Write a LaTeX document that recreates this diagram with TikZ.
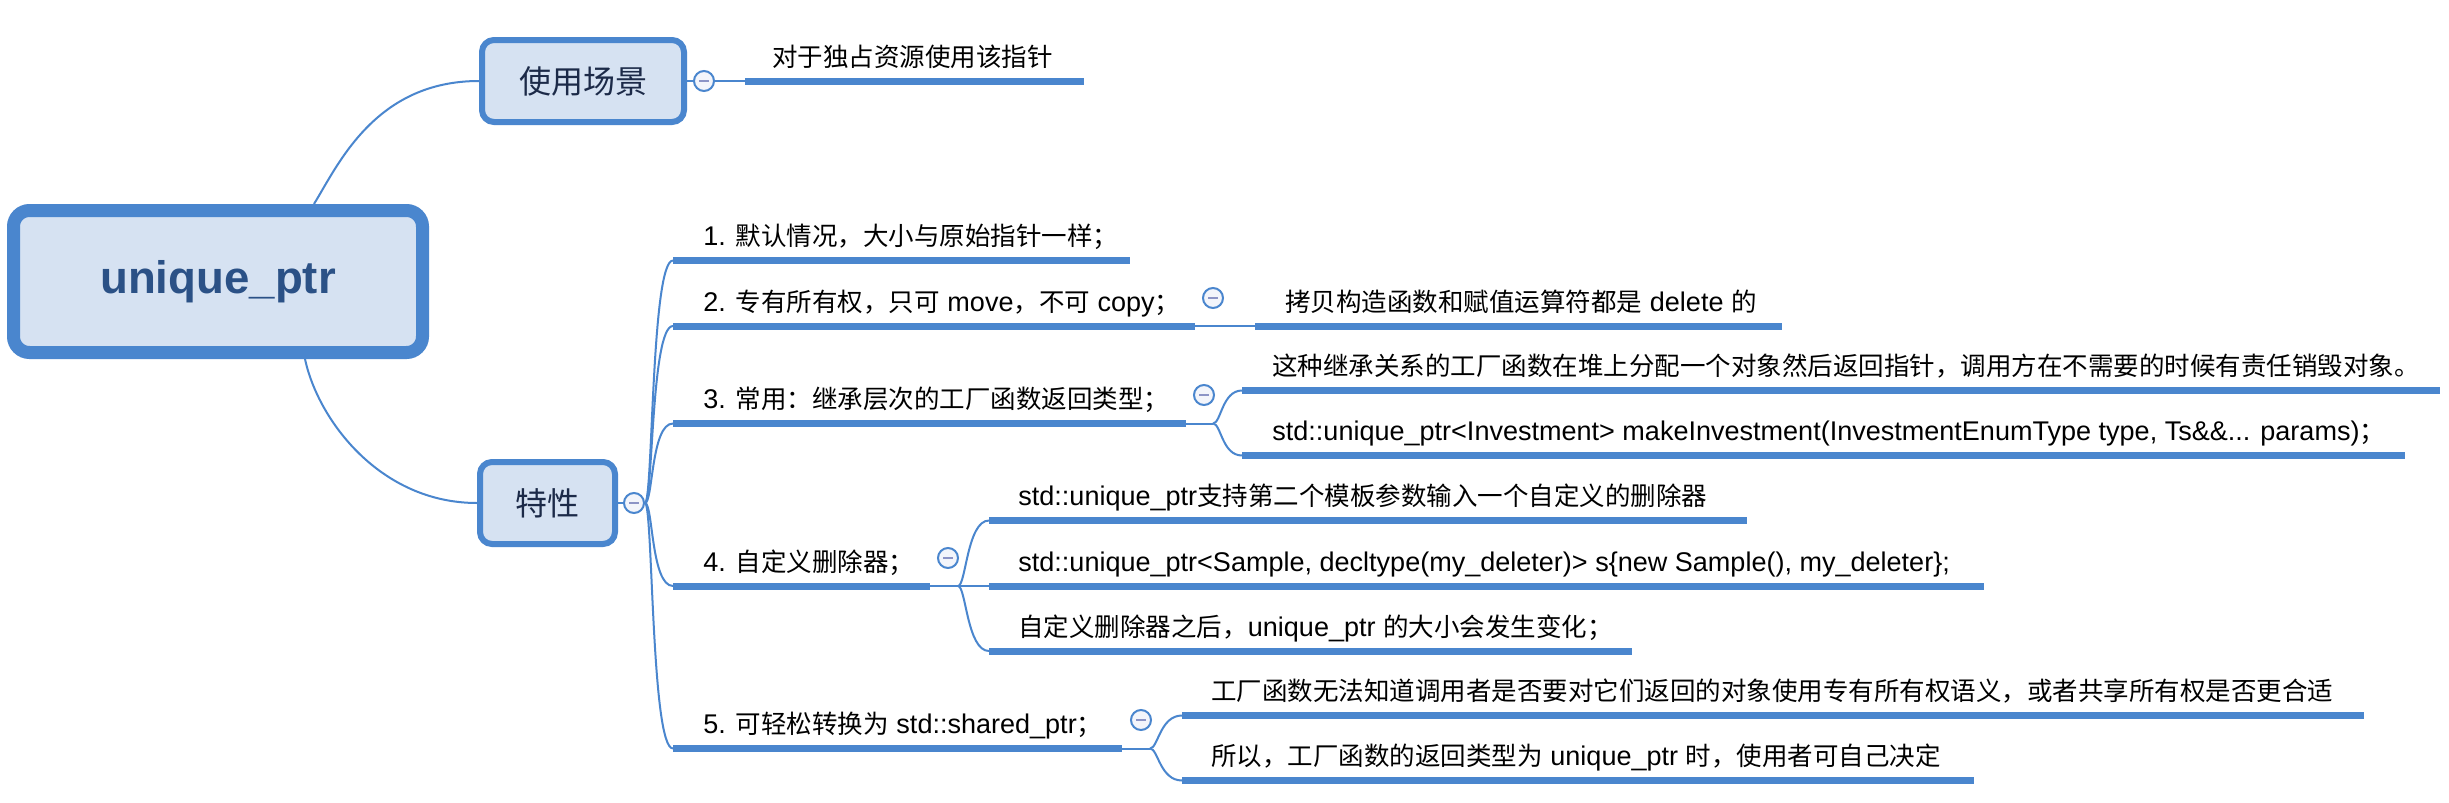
\documentclass[tikz,border=0pt]{standalone}
\usepackage{fontspec}
\setmainfont{Liberation Sans}[Scale=1.06]
\newfontfamily\cjk{Noto Sans CJK SC}

% switch to the CJK family for ideographs and full-width punctuation:
\XeTeXinterchartokenstate=1
\newXeTeXintercharclass\cjkclass
\newcount\cjkcode
\newcommand\setcjkrange[2]{%
  \cjkcode=#1\relax
  \loop
    \XeTeXcharclass\cjkcode=\cjkclass
    \advance\cjkcode by 1
  \ifnum\cjkcode<#2\relax\repeat}
\setcjkrange{"3000}{"3040}
\setcjkrange{"4E00}{"A000}
\setcjkrange{"FF00}{"FFF0}
\XeTeXinterchartoks 0 \cjkclass={\begingroup\cjk}
\XeTeXinterchartoks 4095 \cjkclass={\begingroup\cjk}
\XeTeXinterchartoks \cjkclass 0={\endgroup}
\XeTeXinterchartoks \cjkclass 4095={\endgroup}

\definecolor{mapblue}{HTML}{4A86CE}
\definecolor{mapfill}{HTML}{D6E2F2}
\definecolor{roottext}{HTML}{2B5186}
\definecolor{topictext}{HTML}{1C2A48}
\definecolor{foldfill}{HTML}{F3F5FB}
\definecolor{foldmark}{HTML}{8C94C6}

\begin{document}
\begin{tikzpicture}[x=0.5pt,y=-0.5pt,
  rootbox/.style={draw=mapblue,fill=mapfill,line width=6.5pt,rounded corners=8pt,
    minimum width=204.5pt,minimum height=71pt,inner sep=0pt,
    text=roottext,font={\fontsize{21.5pt}{26pt}\selectfont\bfseries}},
  topicbox/.style={draw=mapblue,fill=mapfill,line width=3pt,rounded corners=6pt,
    minimum height=41pt,inner sep=0pt,text=topictext,font={\fontsize{16pt}{20pt}\selectfont}},
  leaf/.style={anchor=base west,inner sep=0pt,text=black,font={\fontsize{12.75pt}{15pt}\selectfont}},
  bar/.style={mapblue,line width=3.5pt},
  link/.style={mapblue,line width=1pt},
  fold/.style={circle,draw=mapblue,fill=foldfill,line width=1pt,minimum size=10pt,inner sep=0pt,
    path picture={\draw[foldmark,line width=1pt] ([xshift=-2.5pt]path picture bounding box.center)
      -- ([xshift=2.5pt]path picture bounding box.center);}}]

\fill[white] (0,0) rectangle (2449,803);
\useasboundingbox (0,0) rectangle (2449,803);

% central and main topics:
\node[rootbox] (root) at (218,281.5) {unique\_ptr};
\node[topicbox,minimum width=101pt] (scene) at (583,81) {使用场景};
\node[topicbox,minimum width=67.5pt] (trait) at (547.5,503) {特性};

% underline ends:
\coordinate (s1-a) at (745,81);     \coordinate (s1-b) at (1084,81);
\coordinate (c1-a) at (673,260.5);  \coordinate (c1-b) at (1130,260.5);
\coordinate (c2-a) at (673,326);    \coordinate (c2-b) at (1195,326);
\coordinate (c3-a) at (673,423.5);  \coordinate (c3-b) at (1186,423.5);
\coordinate (c4-a) at (673,586);    \coordinate (c4-b) at (930,586);
\coordinate (c5-a) at (673,748.5);  \coordinate (c5-b) at (1122,748.5);
\coordinate (d21-a) at (1255,326);  \coordinate (d21-b) at (1782,326);
\coordinate (d31-a) at (1242,390.5); \coordinate (d31-b) at (2440,390.5);
\coordinate (d32-a) at (1242,455.5); \coordinate (d32-b) at (2405,455.5);
\coordinate (d41-a) at (989,520.5);  \coordinate (d41-b) at (1747,520.5);
\coordinate (d42-a) at (989,586);    \coordinate (d42-b) at (1984,586);
\coordinate (d43-a) at (989,651);    \coordinate (d43-b) at (1632,651);
\coordinate (d51-a) at (1182,715.5); \coordinate (d51-b) at (2364,715.5);
\coordinate (d52-a) at (1182,780.5); \coordinate (d52-b) at (1974,780.5);
\coordinate (j3) at (1213,423.5);
\coordinate (j4) at (958,586);
\coordinate (j5) at (1150,748.5);

% texts:
\node[leaf] (s1) at (772,66) {对于独占资源使用该指针};
\node[leaf] (c1) at (703,245.5) {1. 默认情况，大小与原始指针一样；};
\node[leaf] (c2) at (703,311) {2. 专有所有权，只可 move，不可 copy；};
\node[leaf] (c3) at (703,408.5) {3. 常用：继承层次的工厂函数返回类型；};
\node[leaf] (c4) at (703,571) {4. 自定义删除器；};
\node[leaf] (c5) at (703,733.5) {5. 可轻松转换为 std::shared\_ptr；};
\node[leaf] (d21) at (1285,311) {拷贝构造函数和赋值运算符都是 delete 的};
\node[leaf] (d31) at (1272,375.5) {这种继承关系的工厂函数在堆上分配一个对象然后返回指针，调用方在不需要的时候有责任销毁对象。};
\node[leaf] (d32) at (1272,440.5) {std::unique\_ptr<Investment> makeInvestment(InvestmentEnumType type, Ts\&\&... params)；};
\node[leaf] (d41) at (1018,505.5) {std::unique\_ptr支持第二个模板参数输入一个自定义的删除器};
\node[leaf] (d42) at (1018,571) {std::unique\_ptr<Sample, decltype(my\_deleter)> s\{new Sample(), my\_deleter\};};
\node[leaf] (d43) at (1018,636) {自定义删除器之后，unique\_ptr 的大小会发生变化；};
\node[leaf] (d51) at (1211,700.5) {工厂函数无法知道调用者是否要对它们返回的对象使用专有所有权语义，或者共享所有权是否更合适};
\node[leaf] (d52) at (1211,765.5) {所以，工厂函数的返回类型为 unique\_ptr 时，使用者可自己决定};

% underlines:
\foreach \u in {s1,c1,c2,c3,c4,c5,d21,d31,d32,d41,d42,d43,d51,d52}
  \draw[bar] (\u-a) -- (\u-b);

% fold markers:
\node[fold] (fscene) at (704,81) {};
\node[fold] (ftrait) at (634,503) {};
\node[fold] (fc2) at (1213,298) {};
\node[fold] (fc3) at (1204,395) {};
\node[fold] (fc4) at (948,558) {};
\node[fold] (fc5) at (1141,720) {};

% connectors:
\draw[link] ([xshift=48pt]root.north) .. controls +(24,-39) and +(-104,0) .. (scene.west);
\draw[link] ([xshift=43.5pt]root.south) .. controls +(13,61) and +(-97,0) .. (trait.west);
\draw[link] (scene.east) -- (fscene.west);
\draw[link] (fscene.east) -- (s1-a);
\draw[link] (trait.east) -- (ftrait.west);
\foreach \ch in {c1,c2,c3,c4,c5}
  \draw[link] (ftrait.east) .. controls +(8,0) and +(-22,0) .. (\ch-a);
\draw[link] (c2-b) -- (d21-a);
\draw[link] (c3-b) -- (j3);
\foreach \ch in {d31,d32}
  \draw[link] (j3) .. controls +(8,0) and +(-20,0) .. (\ch-a);
\draw[link] (c4-b) -- (d42-a);
\foreach \ch in {d41,d43}
  \draw[link] (j4) .. controls +(8,0) and +(-22,0) .. (\ch-a);
\draw[link] (c5-b) -- (j5);
\foreach \ch in {d51,d52}
  \draw[link] (j5) .. controls +(8,0) and +(-22,0) .. (\ch-a);

\end{tikzpicture}
\end{document}
